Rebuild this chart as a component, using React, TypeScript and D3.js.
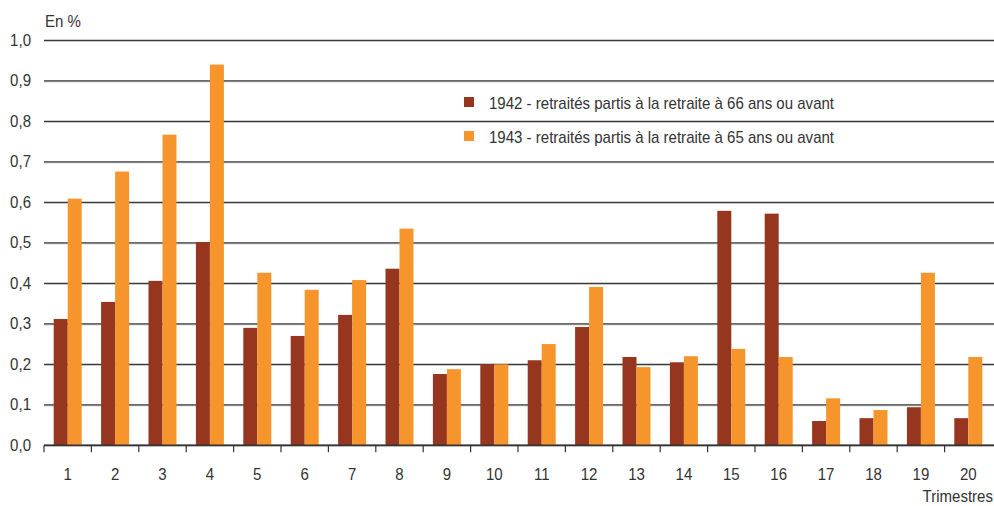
import React, { useEffect, useRef } from 'react';
import * as d3 from 'd3';

const quarters = d3.range(1, 21).map(String);
const gen1942 = [0.312, 0.354, 0.406, 0.502, 0.29, 0.27, 0.322, 0.436, 0.176, 0.2,
  0.21, 0.292, 0.218, 0.205, 0.579, 0.572, 0.06, 0.067, 0.094, 0.067];
const gen1943 = [0.609, 0.676, 0.767, 0.94, 0.426, 0.384, 0.408, 0.535, 0.188, 0.2,
  0.25, 0.391, 0.193, 0.22, 0.238, 0.218, 0.116, 0.087, 0.426, 0.218];
const seriesLabels = [
  '1942 - retraités partis à la retraite à 66 ans ou avant',
  '1943 - retraités partis à la retraite à 65 ans ou avant',
];
const yTicks = [0, 0.1, 0.2, 0.3, 0.4, 0.5, 0.6, 0.7, 0.8, 0.9, 1.0];

const colors = ['#97361f', '#f7952d'];
const font = 'Liberation Sans, Arial, sans-serif';

const App = () => {
  const chartRef = useRef<SVGSVGElement>(null);

  useEffect(() => {
    const svg = d3.select(chartRef.current);
    svg.selectAll('*').remove();

    const width = 994;
    const height = 506;
    const margin = { top: 40.3, right: 0, bottom: 60.7, left: 44 };

    // slightly condensed text, like the original
    const label = (g, xPos, yPos, txt, anchor = 'start', size = 16) =>
      g.append('text')
        .attr('transform', `translate(${xPos},${yPos}) scale(0.94,1)`)
        .attr('text-anchor', anchor)
        .attr('font-family', font)
        .attr('font-size', size)
        .attr('fill', '#333')
        .text(txt);

    const x = d3.scaleBand()
      .domain(quarters)
      .range([margin.left, 992]);

    const inner = d3.scaleBand()
      .domain(['a', 'b'])
      .range([0, 28]);

    const y = d3.scaleLinear()
      .domain([0, 1])
      .range([height - margin.bottom, margin.top]);

    // gridlines + y labels
    const grid = svg.append('g');
    yTicks.forEach(t => {
      grid.append('line')
        .attr('x1', margin.left).attr('x2', width)
        .attr('y1', y(t) + 1).attr('y2', y(t) + 1)
        .attr('stroke', '#bbb').attr('stroke-width', 1);
      grid.append('line')
        .attr('x1', margin.left).attr('x2', width)
        .attr('y1', y(t)).attr('y2', y(t))
        .attr('stroke', '#3a3a3a').attr('stroke-width', 1.2);
      label(grid, 31, y(t) + 5.5, d3.format('.1f')(t).replace('.', ','), 'end');
    });

    // bars
    const bw = x.bandwidth();
    [gen1942, gen1943].forEach((vals, s) => {
      svg.append('g')
        .selectAll('rect')
        .data(vals)
        .join('rect')
        .attr('x', (d, i) => x(quarters[i]) + (bw - 28) / 2 + inner(s ? 'b' : 'a'))
        .attr('y', d => y(d))
        .attr('width', inner.bandwidth())
        .attr('height', d => y(0) - y(d))
        .attr('fill', colors[s]);
    });

    // x axis
    const xAxis = svg.append('g')
      .attr('transform', `translate(0,${y(0)})`);
    xAxis.append('line')
      .attr('x1', margin.left).attr('x2', width)
      .attr('y1', 1).attr('y2', 1)
      .attr('stroke', '#bbb').attr('stroke-width', 1);
    xAxis.append('line')
      .attr('x1', margin.left).attr('x2', width)
      .attr('y1', 0).attr('y2', 0)
      .attr('stroke', '#333').attr('stroke-width', 1.5);
    xAxis.selectAll('.sep')
      .data(quarters)
      .join('line')
      .attr('class', 'sep')
      .attr('x1', d => x(d)).attr('x2', d => x(d))
      .attr('y1', 0).attr('y2', 7)
      .attr('stroke', '#333').attr('stroke-width', 1.2);
    quarters.forEach(q => label(xAxis, x(q) + bw / 2, 35, q, 'middle'));

    label(svg, 45, 27, 'En %');
    label(svg, 993, 502, 'Trimestres', 'end');

    // legend
    const legend = svg.append('g');
    seriesLabels.forEach((lbl, i) => {
      legend.append('rect')
        .attr('x', 464).attr('y', 97 + i * 34)
        .attr('width', 10).attr('height', 10)
        .attr('fill', colors[i]);
      label(legend, 489, 109 + i * 34, lbl);
    });
  }, []);

  return (
    <svg
      ref={chartRef}
      width="994"
      height="506"
      style={{ position: 'absolute', left: 0, top: 0, background: '#fff' }}
    ></svg>
  );
};

export default App;
